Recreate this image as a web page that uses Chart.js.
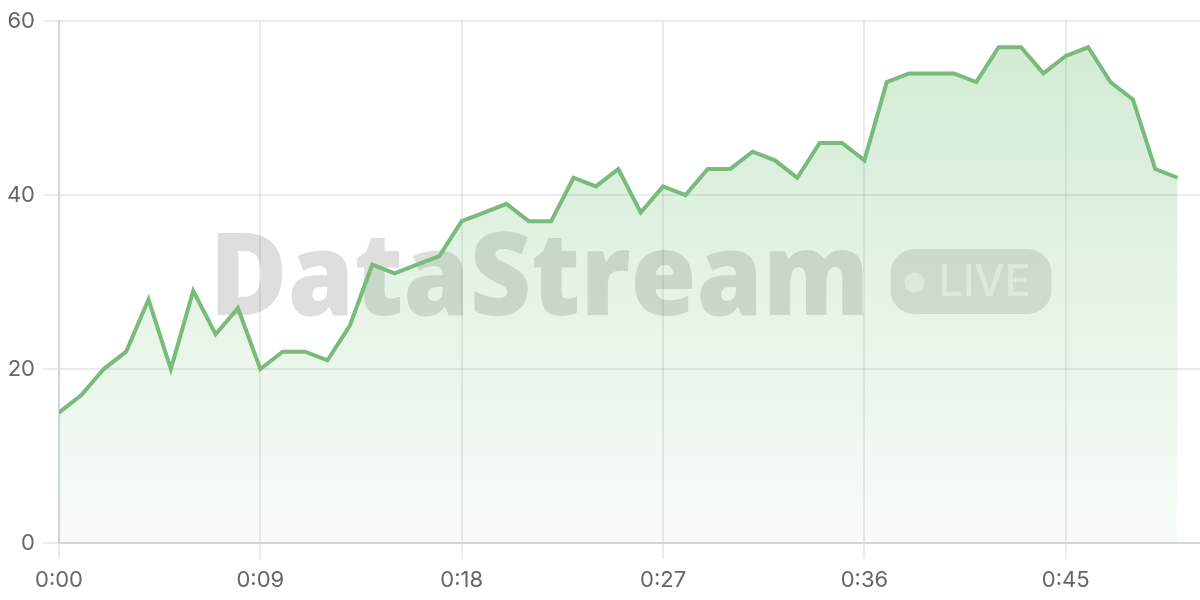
<!DOCTYPE html>
<html>
<head>
<meta charset="utf-8">
<script src="https://cdn.jsdelivr.net/npm/chart.js@4.4.1/dist/chart.umd.min.js"></script>
<style>
html, body { margin: 0; padding: 0; background: #fff; }
canvas { display: block; }
</style>
</head>
<body>
<canvas id="grafico" width="1200" height="600"></canvas>
<script>
// seconds since start
const segundos = [0,1,2,3,4,5,6,7,8,9,10,11,12,13,14,15,16,17,18,19,20,21,22,23,24,25,
  26,27,28,29,30,31,32,33,34,35,36,37,38,39,40,41,42,43,44,45,46,47,48,49,50];

const valores = [15,17,20,22,28,20,29,24,27,20,22,22,21,25,32,31,32,33,37,38,39,37,37,42,41,43,
  38,41,40,43,43,45,44,42,46,46,44,53,54,54,54,53,57,57,54,56,57,53,51,43,42];

const ticksX = [0,9,18,27,36,45];
const ticksY = [0,20,40,60];

const marca = "DataStream";
const selo = "LIVE";

function formatar(s){
  let m = Math.floor(s/60);
  let r = s % 60;
  return m + ":" + (r < 10 ? "0" + r : r);
}

// watermark, drawn before the grid
const marcaDagua = {
  id: 'marcaDagua',
  beforeDraw(chart){
    const {ctx, chartArea} = chart;
    const cx = (chartArea.left + chartArea.right)/2;
    const cy = (chartArea.top + chartArea.bottom)/2;
    ctx.save();

    ctx.font = "800 116px 'Open Sans'";
    ctx.textBaseline = "alphabetic";
    ctx.textAlign = "left";
    let w = ctx.measureText(marca).width;
    let alvo = 660;
    let esq = cx - 420;
    ctx.fillStyle = "rgba(0,0,0,0.13)";
    if(w > alvo){
      ctx.translate(esq, cy + 33);
      ctx.scale(alvo/w, 1);
      ctx.fillText(marca, 0, 0);
      ctx.setTransform(1,0,0,1,0,0);
    } else {
      ctx.letterSpacing = ((alvo - w)/(marca.length-1)).toFixed(2) + "px";
      ctx.fillText(marca, esq, cy + 33);
      ctx.letterSpacing = "0px";
    }

    // badge
    let bx = esq + 681, by = cy - 33, bw = 161, bh = 65;
    ctx.fillStyle = "rgba(0,0,0,0.11)";
    ctx.beginPath();
    ctx.roundRect(bx, by, bw, bh, 24);
    ctx.fill();

    ctx.fillStyle = "rgba(255,255,255,0.6)";
    ctx.beginPath();
    ctx.arc(bx + 24, cy + 0.5, 10, 0, Math.PI*2);
    ctx.fill();

    ctx.font = "500 44px Inter";
    let lw = ctx.measureText(selo).width;
    ctx.save();
    ctx.translate(bx + 48, cy + 14);
    ctx.scale(92/lw, 1);
    ctx.fillText(selo, 0, 0);
    ctx.restore();
    ctx.restore();
  }
};

const ctx = document.getElementById('grafico');

new Chart(ctx, {
  type: 'line',
  data: {
    datasets: [{
      label: 'Stream',
      data: valores.map((v,i) => ({x: segundos[i], y: v})),
      borderColor: '#78bb7b',
      borderWidth: 4,
      pointRadius: 0,
      tension: 0,
      fill: 'origin',
      backgroundColor: function(context){
        const chart = context.chart;
        const area = chart.chartArea;
        if(!area) return 'rgba(76,175,80,0.15)';
        let g = chart.ctx.createLinearGradient(0, area.top, 0, area.bottom);
        g.addColorStop(0, 'rgba(76,175,80,0.26)');
        g.addColorStop(1, 'rgba(76,175,80,0.04)');
        return g;
      }
    }]
  },
  options: {
    responsive: false,
    devicePixelRatio: 1,
    animation: false,
    layout: { padding: { top: 8, right: 0, left: 0, bottom: 0 } },
    plugins: {
      legend: { display: false },
      tooltip: { enabled: false }
    },
    scales: {
      x: {
        type: 'linear',
        min: 0,
        max: 51,
        afterBuildTicks: scale => {
          scale.ticks = ticksX.map(v => ({value: v}));
        },
        afterFit: scale => { scale.height = 57; },
        grid: { color: 'rgba(0,0,0,0.08)', lineWidth: 2, tickLength: 16 },
        border: { color: '#d6d6d6', width: 2 },
        ticks: {
          padding: 8,
          color: '#666',
          font: { family: 'Inter', size: 22 },
          maxRotation: 0,
          callback: v => formatar(v)
        }
      },
      y: {
        min: 0,
        max: 60,
        afterBuildTicks: scale => {
          scale.ticks = ticksY.map(v => ({value: v}));
        },
        afterFit: scale => { scale.width = 59; },
        grid: { color: 'rgba(0,0,0,0.08)', lineWidth: 2, tickLength: 16 },
        border: { color: '#d6d6d6', width: 2 },
        ticks: {
          padding: 8,
          color: '#666',
          font: { family: 'Inter', size: 22 }
        }
      }
    }
  },
  plugins: [marcaDagua]
});
</script>
</body>
</html>
